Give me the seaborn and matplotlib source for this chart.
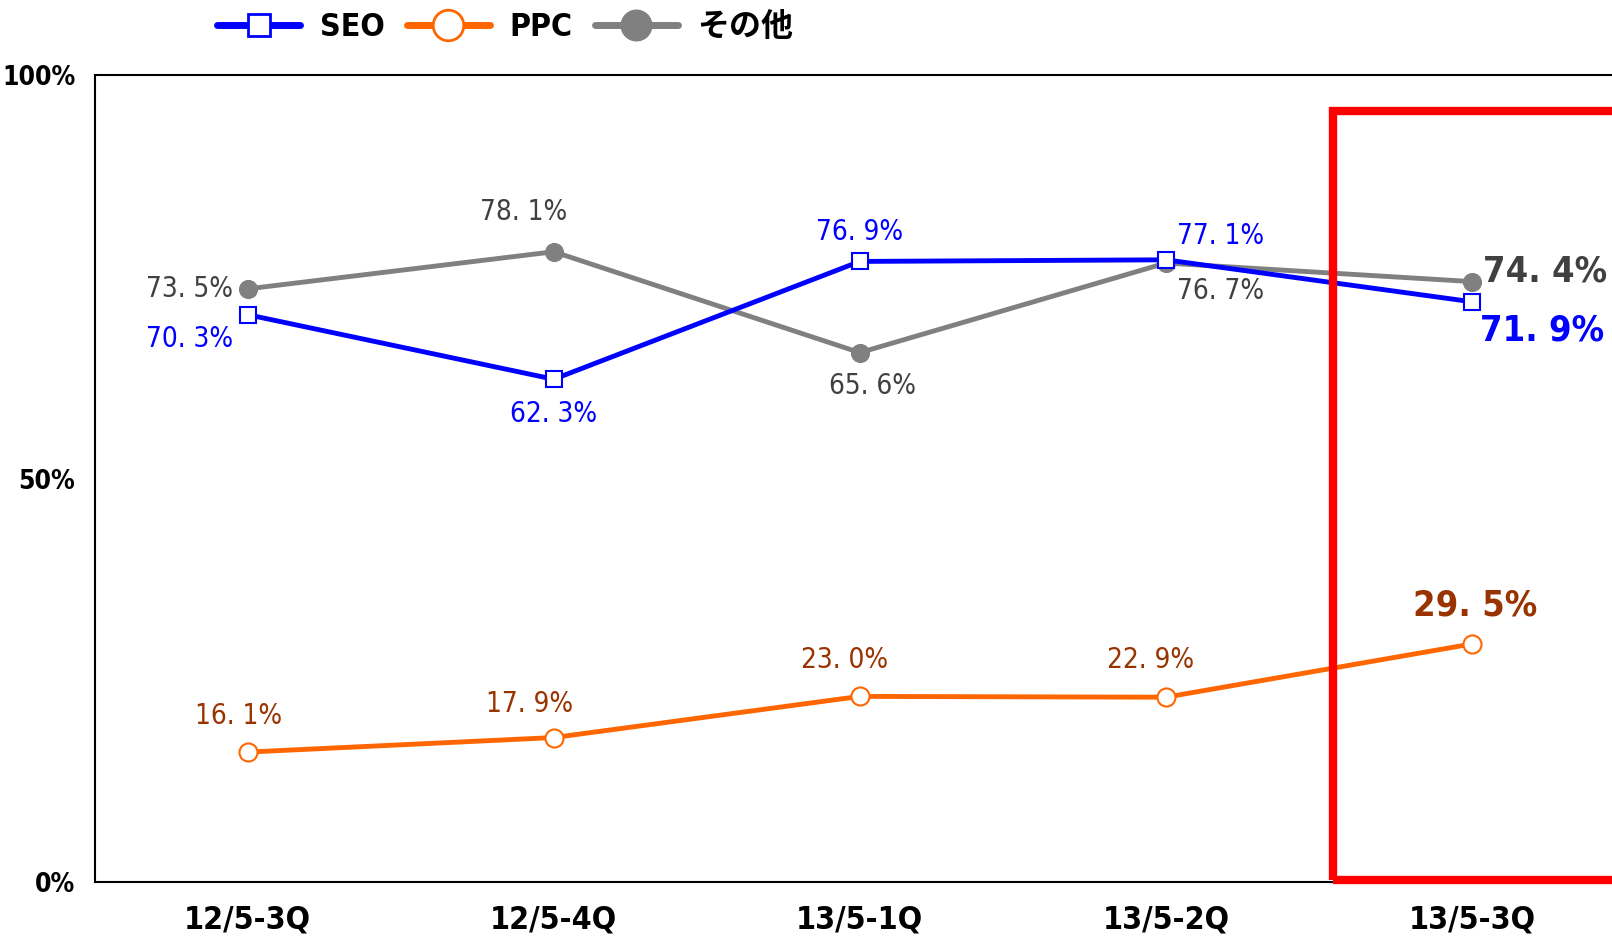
import numpy as np
import pandas as pd
import matplotlib.pyplot as plt
import seaborn as sns
from matplotlib.patches import Rectangle
from matplotlib.lines import Line2D

sns.set_theme(style="white")
plt.rcParams['font.family'] = ['DejaVu Sans', 'Noto Sans CJK JP']
plt.rcParams['font.stretch'] = 'condensed'
plt.rcParams['text.color'] = 'black'

# ------------------------------------------------------------
# data
# ------------------------------------------------------------
quarters = ["12/5-3Q", "12/5-4Q", "13/5-1Q", "13/5-2Q", "13/5-3Q"]
seo = [70.3, 62.3, 76.9, 77.1, 71.9]
ppc = [16.1, 17.9, 23.0, 22.9, 29.5]
other = [73.5, 78.1, 65.6, 76.7, 74.4]
series_names = ["SEO", "PPC", "その他"]

df = pd.DataFrame({"quarter": quarters, "SEO": seo, "PPC": ppc, "その他": other})
x = np.arange(len(quarters))

fig = plt.figure(figsize=(16.12, 9.40), dpi=100)
ax = fig.add_axes([0.0587, 0.0617, 0.9494, 0.8585])

styles = {
    "SEO": dict(color="#0000FF", marker="s", markersize=12, markerfacecolor="white",
                markeredgecolor="#0000FF", markeredgewidth=1.5),
    "PPC": dict(color="#FF6600", marker="o", markersize=13, markerfacecolor="white",
                markeredgecolor="#FF6600", markeredgewidth=1.5),
    "その他": dict(color="#808080", marker="o", markersize=13, markerfacecolor="#808080",
                 markeredgecolor="#808080"),
}
# draw gray first so blue sits on top
for name in ["その他", "PPC", "SEO"]:
    sns.lineplot(x=x, y=df[name], ax=ax, linewidth=3.5, **styles[name])

# red highlight box
ax.add_patch(Rectangle((3.547, 0.3), 2.0, 95.2, fill=False, edgecolor="#FF0000",
                       linewidth=6, clip_on=False, zorder=5))

# ------------------------------------------------------------
# value labels
# ------------------------------------------------------------
def lab(v):
    s = f"{v:.1f}%"
    return s.replace(".", ". ")

seo_off = [(-0.19, -3.0), (0.0, -4.3), (0.0, 3.7), (0.18, 3.0), (0.23, -3.5)]
ppc_off = [(-0.03, 4.5), (-0.08, 4.2), (-0.05, 4.5), (-0.05, 4.6), (0.01, 4.8)]
oth_off = [(-0.19, 0.0), (-0.1, 4.9), (0.04, -4.1), (0.18, -3.5), (0.24, 1.2)]
for i in range(len(quarters)):
    big = i == len(quarters) - 1
    kw = dict(fontsize=26 if big else 20, fontweight="bold" if big else "normal",
              ha="center", va="center")
    ax.text(x[i] + seo_off[i][0], seo[i] + seo_off[i][1], lab(seo[i]), color="#0000FF", **kw)
    ax.text(x[i] + ppc_off[i][0], ppc[i] + ppc_off[i][1], lab(ppc[i]), color="#993300", **kw)
    ax.text(x[i] + oth_off[i][0], other[i] + oth_off[i][1], lab(other[i]), color="#404040", **kw)

# ------------------------------------------------------------
# axes
# ------------------------------------------------------------
ax.set_xlim(-0.5, len(quarters) - 0.5)
ax.set_ylim(0, 100)
ax.set_xticks(x)
ax.set_xticklabels(quarters, fontsize=23, fontweight="bold", color="black")
ax.set_xticks(x[:-1] + 0.5, minor=True)
ax.tick_params(axis="x", which="major", length=0, pad=16)
ax.tick_params(axis="x", which="minor", direction="in", length=6, width=1, color="black")
ax.set_yticks([0, 50, 100])
ax.set_yticklabels(["0%", "50%", "100%"], fontsize=19, fontweight="bold", color="black")
ax.tick_params(axis="y", length=0, pad=14)
ax.set_xlabel("")
ax.set_ylabel("")
for sp in ax.spines.values():
    sp.set_color("black")
    sp.set_linewidth(1.5)
ax.grid(False)

leg_styles = {
    "SEO": dict(styles["SEO"], markersize=16, markeredgewidth=2),
    "PPC": dict(styles["PPC"], markersize=22, markeredgewidth=2),
    "その他": dict(styles["その他"], markersize=22),
}
handles = [Line2D([], [], linewidth=5, **leg_styles[n]) for n in series_names]
fig.legend(handles, series_names, loc="center left", bbox_to_anchor=(0.117, 0.971),
           ncol=3, frameon=False, handlelength=2.6, columnspacing=0.7, handletextpad=0.6,
           prop=dict(size=23, weight="bold"))

fig.savefig("out.png", dpi=100)
